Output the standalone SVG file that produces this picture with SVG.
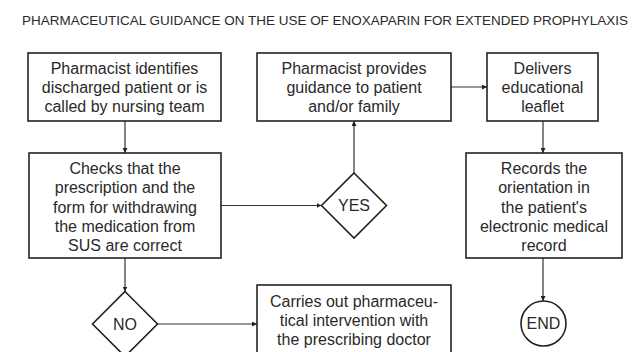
<svg xmlns="http://www.w3.org/2000/svg" width="640" height="352" viewBox="0 0 640 352">
<defs>
<marker id="ah" viewBox="0 0 10 10" refX="10" refY="5" markerWidth="5" markerHeight="5" orient="auto" markerUnits="userSpaceOnUse">
<path d="M0,0 L10,5 L0,10 z" fill="#222"/>
</marker>
<style>
.box{fill:#fff;stroke:#222;stroke-width:1.6}
.t{font-family:"Liberation Sans",Arial,sans-serif;font-size:16px;fill:#2a2a2a;text-anchor:middle}
.title{font-family:"Liberation Sans",Arial,sans-serif;font-size:13px;fill:#2a2a2a}
.c{fill:none;stroke:#333;stroke-width:1.2;marker-end:url(#ah)}
</style>
</defs>
<rect width="640" height="352" fill="#fff"/>
<text class="title" x="22" y="25" textLength="606" lengthAdjust="spacingAndGlyphs">PHARMACEUTICAL GUIDANCE ON THE USE OF ENOXAPARIN FOR EXTENDED PROPHYLAXIS</text>
<g id="connectors">
<path class="c" d="M125,121 V153"/>
<path class="c" d="M221,205.5 H321.5"/>
<path class="c" d="M354,173 V121"/>
<path class="c" d="M451,87 H487"/>
<path class="c" d="M543,121 V153"/>
<path class="c" d="M543,258 V301"/>
<path class="c" d="M125,258 V291.5"/>
<path class="c" d="M157.5,324 H257"/>
</g>
<g id="n1"><rect class="box" x="28" y="53" width="193" height="68"/>
<text class="t" x="124.5" y="73.5">Pharmacist identifies</text>
<text class="t" x="124.5" y="92.5">discharged patient or is</text>
<text class="t" x="124.5" y="111.5">called by nursing team</text></g>
<g id="n2"><rect class="box" x="257" y="53" width="194" height="68"/>
<text class="t" x="354" y="73.5">Pharmacist provides</text>
<text class="t" x="354" y="92.5">guidance to patient</text>
<text class="t" x="354" y="111.5">and/or family</text></g>
<g id="n3"><rect class="box" x="487" y="53" width="111" height="68"/>
<text class="t" x="542.5" y="73.5">Delivers</text>
<text class="t" x="542.5" y="92.5">educational</text>
<text class="t" x="542.5" y="111.5">leaflet</text></g>
<g id="n4"><rect class="box" x="29" y="153" width="192" height="105"/>
<text class="t" x="125" y="174">Checks that the</text>
<text class="t" x="125" y="193.3">prescription and the</text>
<text class="t" x="125" y="212.6">form for withdrawing</text>
<text class="t" x="125" y="231.9">the medication from</text>
<text class="t" x="125" y="251.2">SUS are correct</text></g>
<g id="n5"><path class="box" d="M354,173 L386.5,205.5 L354,238 L321.5,205.5 z"/>
<text class="t" x="354" y="211">YES</text></g>
<g id="n6"><rect class="box" x="466" y="153" width="156" height="105"/>
<text class="t" x="544" y="174">Records the</text>
<text class="t" x="544" y="193.3">orientation in</text>
<text class="t" x="544" y="212.6">the patient's</text>
<text class="t" x="544" y="231.9">electronic medical</text>
<text class="t" x="544" y="251.2">record</text></g>
<g id="n7"><path class="box" d="M125,291.5 L157.5,324 L125,356.5 L92.5,324 z"/>
<text class="t" x="125" y="329.5">NO</text></g>
<g id="n8"><rect class="box" x="257" y="285" width="194" height="80"/>
<text class="t" x="354" y="306.5">Carries out pharmaceu-</text>
<text class="t" x="354" y="326">tical intervention with</text>
<text class="t" x="354" y="345">the prescribing doctor</text></g>
<g id="n9"><circle class="box" cx="543.5" cy="323.5" r="22.5"/>
<text class="t" x="543.5" y="329">END</text></g>
</svg>
